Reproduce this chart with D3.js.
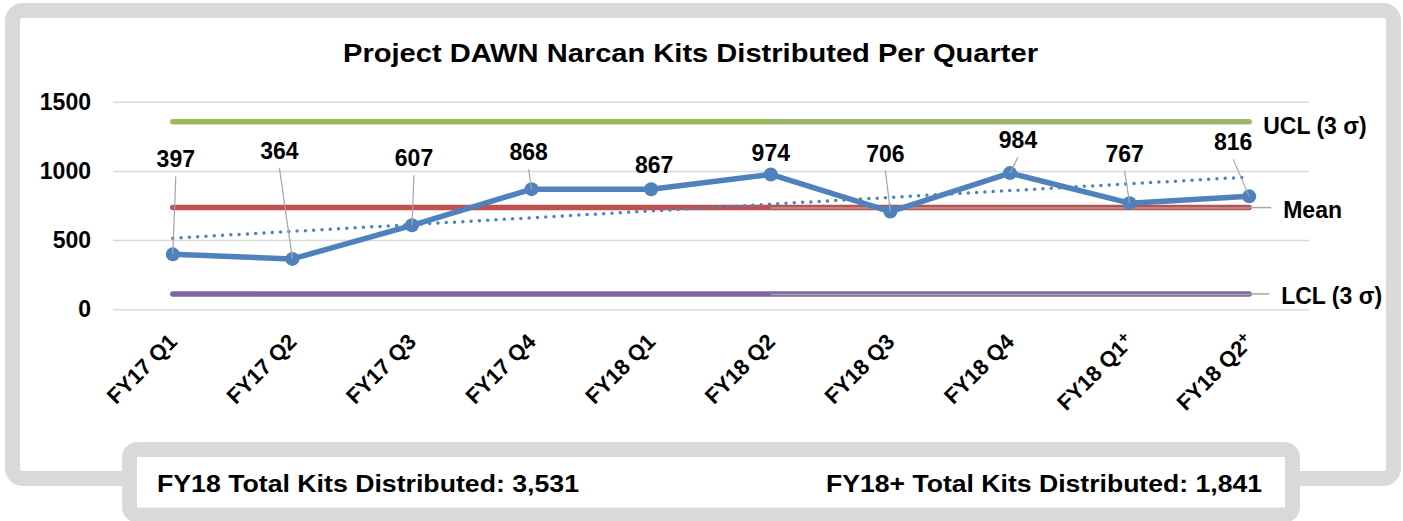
<!DOCTYPE html>
<html>
<head>
<meta charset="utf-8">
<script src="https://cdn.jsdelivr.net/npm/d3@7"></script>
<style>
  body { margin: 0; background: #fff; }
  text { font-family: "Liberation Sans", Arial, sans-serif; font-weight: bold; fill: #000; }
</style>
</head>
<body>
<svg id="drawspace" width="1403" height="521"></svg>
<script>
let drawspace = d3.select("#drawspace");

// values
const categories = ["FY17 Q1", "FY17 Q2", "FY17 Q3", "FY17 Q4", "FY18 Q1",
  "FY18 Q2", "FY18 Q3", "FY18 Q4", "FY18 Q1+", "FY18 Q2+"];
const kits = [397, 364, 607, 868, 867, 974, 706, 984, 767, 816];
const limitNames = ["UCL (3 σ)", "Mean", "LCL (3 σ)"];
const limitValues = [1356, 735, 111];
const trendEnds = [514, 956];
const yTicks = [0, 500, 1000, 1500];
const totals = ["FY18 Total Kits Distributed: 3,531", "FY18+ Total Kits Distributed: 1,841"];

// label placement (pixels from the point), like dragged Excel labels
const labelOffsets = [[3, -87], [-13, -100], [2, -59], [-3, -29], [3, -16],
  [0, -13], [-5, -50], [8, -25], [-5, -41], [-16, -46]];
const limitLabelPos = [[14, 12], [34, 10], [32, 10]];

const blue = "#4f81bd";
const limitColors = ["#9bbb59", "#c0504d", "#8064a2"];

// frames
drawspace.append("rect")
  .attr("x", 12.5).attr("y", 10.5)
  .attr("width", 1381).attr("height", 468)
  .attr("rx", 10)
  .attr("fill", "#fff")
  .attr("stroke", "#d9d9d9")
  .attr("stroke-width", 15);

drawspace.append("rect")
  .attr("x", 129.5).attr("y", 449.5)
  .attr("width", 1163).attr("height", 65.5)
  .attr("rx", 8)
  .attr("fill", "#fff")
  .attr("stroke", "#d9d9d9")
  .attr("stroke-width", 15);

drawspace.append("text")
  .attr("x", 343).attr("y", 62)
  .attr("font-size", "26px")
  .attr("textLength", 695)
  .attr("lengthAdjust", "spacingAndGlyphs")
  .text("Project DAWN Narcan Kits Distributed Per Quarter");

var x = d3.scalePoint().domain(categories).range([113, 1309]).padding(0.5);
var y = d3.scaleLinear().domain([0, 1500]).range([309.3, 101.7]);

// y axis + gridlines
var yAxis = drawspace.append("g")
  .attr("transform", "translate(113,0)")
  .call(d3.axisLeft(y).tickValues(yTicks).tickFormat(d3.format("d"))
    .tickSize(-1196).tickPadding(22));
yAxis.select(".domain").remove();
yAxis.selectAll("line").attr("stroke", "#d9d9d9").attr("stroke-width", 1.5);
yAxis.selectAll("text")
  .attr("font-size", "23px")
  .attr("font-family", "Liberation Sans, Arial, sans-serif")
  .attr("fill", "#000");

// x axis labels
var xAxis = drawspace.append("g")
  .attr("transform", "translate(0,343)")
  .call(d3.axisBottom(x).tickSize(0));
xAxis.select(".domain").remove();
xAxis.selectAll("text")
  .attr("x", 0).attr("y", 0).attr("dy", 0)
  .attr("font-size", "22px")
  .attr("font-family", "Liberation Sans, Arial, sans-serif")
  .attr("fill", "#000")
  .style("text-anchor", "end")
  .attr("transform", "translate(5,0) rotate(-45)")
  .each(function (d) {
    if (d.endsWith("+")) {
      let t = d3.select(this).text(d.slice(0, -1));
      t.append("tspan").attr("font-size", "16px").attr("dy", "-0.45em").text("+");
    }
  });

// control limits
const x0 = x(categories[0]);
const x1 = x(categories[categories.length - 1]);
const xMid = x(categories[5]);

limitValues.forEach((v, i) => {
  drawspace.append("line")
    .attr("x1", x0).attr("x2", x1)
    .attr("y1", y(v)).attr("y2", y(v))
    .attr("stroke", limitColors[i])
    .attr("stroke-width", 5.5)
    .attr("stroke-linecap", "round");
  drawspace.append("line")
    .attr("x1", xMid).attr("x2", x1)
    .attr("y1", y(v) + 0.5).attr("y2", y(v) + 0.5)
    .attr("stroke", "#a6a6a6")
    .attr("stroke-width", 1.5);
  if (i > 0) {
    drawspace.append("line")
      .attr("x1", x1).attr("x2", x1 + limitLabelPos[i][0] - 12)
      .attr("y1", y(v)).attr("y2", y(v))
      .attr("stroke", "#a6a6a6")
      .attr("stroke-width", 1.5);
  }
  drawspace.append("text")
    .attr("x", x1 + limitLabelPos[i][0])
    .attr("y", y(v) + limitLabelPos[i][1])
    .attr("font-size", "23px")
    .text(limitNames[i]);
});

// linear trend (dotted)
drawspace.append("line")
  .attr("x1", x0).attr("x2", x1)
  .attr("y1", y(trendEnds[0])).attr("y2", y(trendEnds[1]))
  .attr("stroke", blue)
  .attr("stroke-width", 3.5)
  .attr("stroke-linecap", "round")
  .attr("stroke-dasharray", "0 8.3");

// main series
var line = d3.line()
  .x((d, i) => x(categories[i]))
  .y((d) => y(d));

drawspace.append("path")
  .datum(kits)
  .attr("d", line)
  .attr("fill", "none")
  .attr("stroke", blue)
  .attr("stroke-width", 5.5)
  .attr("stroke-linejoin", "round");

drawspace.selectAll(".dot")
  .data(kits)
  .enter()
  .append("circle")
  .attr("class", "dot")
  .attr("cx", (d, i) => x(categories[i]))
  .attr("cy", (d) => y(d))
  .attr("r", 7)
  .attr("fill", blue);

// leader lines + data labels
kits.forEach((d, i) => {
  let px = x(categories[i]);
  let py = y(d);
  let lx = px + labelOffsets[i][0];
  let ly = py + labelOffsets[i][1];
  if (labelOffsets[i][1] < -20) {
    drawspace.append("line")
      .attr("x1", lx).attr("y1", ly + 9)
      .attr("x2", px).attr("y2", py)
      .attr("stroke", "#a6a6a6")
      .attr("stroke-width", 1.2);
  }
  drawspace.append("text")
    .attr("x", lx).attr("y", ly)
    .attr("text-anchor", "middle")
    .attr("font-size", "23px")
    .text(d);
});

// totals box
drawspace.append("text")
  .attr("x", 157).attr("y", 492)
  .attr("font-size", "23px")
  .attr("textLength", 422)
  .attr("lengthAdjust", "spacingAndGlyphs")
  .text(totals[0]);

drawspace.append("text")
  .attr("x", 1262).attr("y", 492)
  .attr("text-anchor", "end")
  .attr("font-size", "23px")
  .attr("textLength", 436)
  .attr("lengthAdjust", "spacingAndGlyphs")
  .text(totals[1]);
</script>
</body>
</html>
